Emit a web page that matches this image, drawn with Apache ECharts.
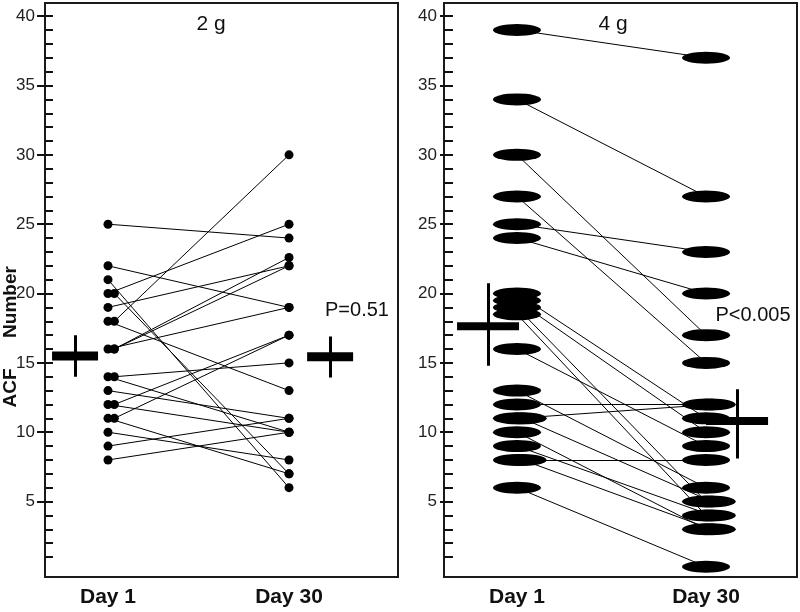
<!DOCTYPE html>
<html>
<head>
<meta charset="utf-8">
<script src="https://cdn.jsdelivr.net/npm/echarts@6/dist/echarts.min.js"></script>
<style>
  html, body { margin: 0; padding: 0; background: #fff; }
  #chart { width: 800px; height: 612px; }
</style>
</head>
<body>
<div id="chart"></div>
<script>
const days = ['Day 1', 'Day 30']
const yLabelTicks = [5, 10, 15, 20, 25, 30, 35, 40]
const yMinorTicks = [1, 2, 3, 4, 5, 6, 7, 8, 9, 10, 11, 12, 13, 14, 15, 16, 17, 18, 19, 20,
  21, 22, 23, 24, 25, 26, 27, 28, 29, 30, 31, 32, 33, 34, 35, 36, 37, 38, 39, 40]
const panelTitles = ['2 g', '4 g']
const pValues = ['P=0.51', 'P<0.005']
const yName = ['ACF', 'Number']

// 2 g: one entry per subject, Day 1 -> Day 30
const lowDay1 = [25, 22, 21, 20, 20, 19, 18, 18, 16, 16, 16, 14, 14, 13, 12, 12, 11, 11, 10, 9, 8]
const lowDay30 = [24, 19, 6, 25, 7, 22, 13, 30, 19, 22.6, 22, 10, 15, 11, 10, 17, 7, 17, 8, 11, 10]
const lowMean = [15.5, 15.45]
const lowErrLo = [14, 13.95]
const lowErrHi = [17, 16.9]

// 4 g
const highDay1 = [39, 34, 30, 27, 25, 24, 20, 19.5, 19, 18.5, 16, 13, 12, 11, 11, 10, 9, 8, 8, 6]
const highDay30 = [37, 27, 17, 15, 23, 20, 11, 10, 5, 4, 9, 6, 12, 12, 5, 3, 4, 8, 3, 0.3]
const highMean = [17.65, 10.8]
const highErrLo = [14.8, 8.1]
const highErrHi = [20.75, 13.1]

const FONT = 'Liberation Sans, Arial, sans-serif'
const Y_MIN = -0.44
const Y_MAX = 40.95

const panels = [
  {
    d1: lowDay1, d30: lowDay30, mean: lowMean, lo: lowErrLo, hi: lowErrHi,
    left: 45, xMin: 0.652, xMax: 2.602, meanX: [0.818, 2.227],
    symbol: 9, jitter: [0.035, 0], bar: [46, 9], outTick: 8, inTick: 8, labelMargin: 10
  },
  {
    d1: highDay1, d30: highDay30, mean: highMean, lo: highErrLo, hi: highErrHi,
    left: 444, xMin: 0.614, xMax: 2.481, meanX: [0.847, 2.164],
    symbol: [48, 12], jitter: [0.03, 0.03], bar: [62, 8], outTick: 4, inTick: 9, labelMargin: 7
  }
]

// repeated values get nudged sideways so the markers don't hide each other
function place (values, x, dx) {
  return values.map((v, i) => {
    const k = values.slice(0, i).filter(w => w === v).length
    return [x + (k > 0 ? dx : 0), v]
  })
}

const grid = []
const xAxis = []
const yAxis = []
const series = []

panels.forEach((p, i) => {
  grid.push({
    left: p.left, top: 3, width: 353, height: 574,
    show: true, borderColor: '#1a1a1a', borderWidth: 2
  })
  xAxis.push({
    gridIndex: i, type: 'value', min: p.xMin, max: p.xMax,
    axisLine: { show: false },
    axisTick: { show: false },
    splitLine: { show: false },
    axisLabel: {
      customValues: [1, 2],
      formatter: v => days[Math.round(v) - 1],
      fontFamily: FONT, fontWeight: 'bold', fontSize: 21, color: '#111', margin: 10
    }
  })
  // labelled ticks (outer part)
  yAxis.push({
    gridIndex: i, type: 'value', position: 'left', min: Y_MIN, max: Y_MAX,
    axisLine: { show: false },
    splitLine: { show: false },
    axisTick: {
      customValues: yLabelTicks, length: p.outTick,
      lineStyle: { color: '#111', width: 2 }
    },
    axisLabel: {
      customValues: yLabelTicks, margin: p.labelMargin,
      fontFamily: FONT, fontSize: 17, color: '#222', padding: [6, 0, 0, 0]
    }
  })
  // unit ticks inside the frame
  yAxis.push({
    gridIndex: i, type: 'value', position: 'left', offset: 0, min: Y_MIN, max: Y_MAX,
    axisLine: { show: false },
    splitLine: { show: false },
    axisLabel: { show: false },
    axisTick: {
      inside: true, customValues: yMinorTicks, length: p.inTick,
      lineStyle: { color: '#111', width: 2 }
    }
  })

  const start = place(p.d1, 1, p.jitter[0])
  const end = place(p.d30, 2, p.jitter[1])

  series.push({
    type: 'lines', coordinateSystem: 'cartesian2d',
    xAxisIndex: i, yAxisIndex: 2 * i, silent: true, z: 2,
    lineStyle: { color: '#000', width: 1, opacity: 1 },
    data: start.map((s, k) => ({ coords: [s, end[k]] }))
  })
  series.push({
    type: 'scatter', xAxisIndex: i, yAxisIndex: 2 * i, z: 3, silent: true,
    symbol: 'circle', symbolSize: p.symbol,
    itemStyle: { color: '#000', opacity: 1 },
    data: start.concat(end)
  })
  series.push({
    type: 'scatter', xAxisIndex: i, yAxisIndex: 2 * i, z: 4, silent: true,
    symbol: 'rect', symbolSize: p.bar,
    itemStyle: { color: '#000', opacity: 1 },
    data: p.mean.map((m, k) => [p.meanX[k], m])
  })
  series.push({
    type: 'lines', coordinateSystem: 'cartesian2d',
    xAxisIndex: i, yAxisIndex: 2 * i, silent: true, z: 4,
    lineStyle: { color: '#000', width: 3, opacity: 1 },
    data: p.mean.map((m, k) => ({ coords: [[p.meanX[k], p.lo[k]], [p.meanX[k], p.hi[k]]] }))
  })
})

const txt = (text, x, y, size, extra) => ({
  type: 'text', x, y, ...extra,
  style: { text, font: size + 'px ' + FONT, fill: '#111', align: 'center', verticalAlign: 'middle' }
})

const graphic = [
  txt(panelTitles[0], 211, 24, 21),
  txt(panelTitles[1], 613, 24, 21),
  txt(pValues[0], 357, 310, 20),
  txt(pValues[1], 753, 315, 20),
  txt(yName[0], 11, 388, 'bold 19', { rotation: Math.PI / 2 }),
  txt(yName[1], 11, 302, 'bold 19', { rotation: Math.PI / 2 })
]

const chart = echarts.init(document.getElementById('chart'))
chart.setOption({
  animation: false,
  backgroundColor: '#fff',
  grid, xAxis, yAxis, series, graphic
})
</script>
</body>
</html>
